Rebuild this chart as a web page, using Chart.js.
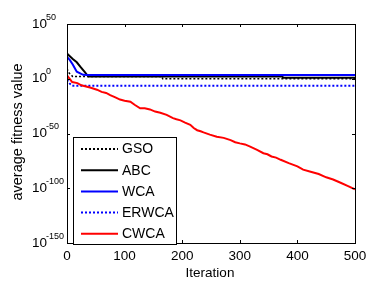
<!DOCTYPE html>
<html>
<head>
<meta charset="utf-8">
<script src="https://cdn.jsdelivr.net/npm/chart.js@4"></script>
<style>
  body { margin: 0; background: #fff; }
  #wrap { width: 379px; height: 291px; position: relative; }
</style>
</head>
<body>
<div id="wrap"><canvas id="myChart"></canvas></div>
<script>
// series values
const gsoIter = [0, 4, 10, 165, 166, 500];
const gsoVal = [1e9, 1e5, 100, 100, 1, 1];

const abcIter = [0, 4, 10, 17, 23, 31, 37, 374, 375, 500];
const abcVal = [1e23, 1e21, 1e18, 1e15, 1e11, 1e6, 100, 100, 10, 10];

const wcaIter = [0, 5, 10, 17, 28, 35, 500];
const wcaVal = [1e20, 1e17, 1e13, 3e6, 4e3, 2.5e3, 2.5e3];

const erwcaIter = [0, 4, 9, 500];
const erwcaVal = [1e-1, 1e-4, 5e-7, 5e-7];

const cwcaIter = [0, 9, 18, 25, 33, 40, 52, 60, 68, 75, 84, 92, 100, 110, 118, 127, 135, 144, 153, 162, 173, 184, 190, 197, 205, 214, 220, 226, 232, 237, 248, 260, 272, 284, 292, 300, 309, 318, 330, 341, 348, 355, 363, 371, 385, 400, 410, 423, 437, 450, 462, 475, 488, 500];
const cwcaVal = [1e3, 1e-3, 1e-4, 1e-6, 1e-7, 1e-8, 1e-10, 1e-12, 1e-13, 1e-15, 1e-17, 1e-19, 1e-20, 1e-21, 1e-24, 1e-27, 1e-27, 1e-28, 1e-30, 1e-31, 1e-33, 1e-36, 1e-37, 1e-38, 1e-40, 1e-42, 1e-45, 1e-47, 1e-48, 1e-49, 1e-51, 1e-53, 1e-54, 1e-56, 1e-58, 1e-59, 1e-60, 1e-62, 1e-65, 1e-68, 1e-69, 1e-71, 1e-72, 1e-74, 1e-77, 1e-80, 1e-83, 1e-85, 1e-87, 1e-90, 1e-92, 1e-95, 1e-98, 1e-101];

const xTicks = [0, 100, 200, 300, 400, 500];
const yExps = [50, 0, -50, -100, -150];

const names = ["GSO", "ABC", "WCA", "ERWCA", "CWCA"];
const FONT = '"Liberation Sans", Arial, sans-serif';

function pts(iter, vals) {
	return iter.map((it, i) => ({ x: it, y: vals[i] }));
}

const styles = [
	{ color: "#000000", dash: [2, 2], width: 1.5 },
	{ color: "#000000", dash: [], width: 2 },
	{ color: "#0000ff", dash: [], width: 2 },
	{ color: "#0000ff", dash: [2, 2], width: 2 },
	{ color: "#ff0000", dash: [], width: 2 }
];

const series = [
	pts(gsoIter, gsoVal),
	pts(abcIter, abcVal),
	pts(wcaIter, wcaVal),
	pts(erwcaIter, erwcaVal),
	pts(cwcaIter, cwcaVal)
];

const datasets = series.map((d, i) => ({
	label: names[i],
	data: d,
	borderColor: styles[i].color,
	borderDash: styles[i].dash,
	borderWidth: styles[i].width,
	pointRadius: 0,
	tension: 0,
	fill: false,
	order: 5 - i
}));

// axes box, ticks, labels and legend, drawn MATLAB style
const decor = {
	id: "decor",
	afterDraw(chart) {
		const ctx = chart.ctx;
		const a = chart.chartArea;
		const xs = chart.scales.x, ys = chart.scales.y;
		ctx.save();
		ctx.strokeStyle = "#000";
		ctx.lineWidth = 1;
		ctx.setLineDash([]);
		ctx.strokeRect(Math.round(a.left) + 0.5, Math.round(a.top) + 0.5, Math.round(a.right - a.left), Math.round(a.bottom - a.top));

		// tick marks inside
		ctx.beginPath();
		xTicks.forEach(t => {
			const px = Math.round(xs.getPixelForValue(t)) + 0.5;
			ctx.moveTo(px, a.bottom); ctx.lineTo(px, a.bottom - 3);
			ctx.moveTo(px, a.top); ctx.lineTo(px, a.top + 3);
		});
		yExps.forEach(e => {
			const py = Math.round(ys.getPixelForValue(Math.pow(10, e))) + 0.5;
			ctx.moveTo(a.left, py); ctx.lineTo(a.left + 3, py);
			ctx.moveTo(a.right, py); ctx.lineTo(a.right - 3, py);
		});
		ctx.stroke();

		ctx.fillStyle = "#000";
		// x tick labels
		ctx.font = "13.5px " + FONT;
		ctx.textAlign = "center";
		ctx.textBaseline = "middle";
		xTicks.forEach(t => {
			ctx.fillText(String(t), xs.getPixelForValue(t), 256);
		});
		// y tick labels 10^e
		yExps.forEach(e => {
			const py = ys.getPixelForValue(Math.pow(10, e));
			ctx.font = "13.5px " + FONT;
			ctx.textAlign = "left";
			ctx.textBaseline = "middle";
			ctx.fillText("10", 32, py);
			ctx.font = "9px " + FONT;
			ctx.textBaseline = "alphabetic";
			ctx.fillText(String(e), 46, py - 4.5);
		});
		// axis titles
		ctx.font = "13.5px " + FONT;
		ctx.textAlign = "center";
		ctx.textBaseline = "middle";
		ctx.fillText("Iteration", 210, 273);
		ctx.save();
		ctx.translate(18, 132);
		ctx.rotate(-Math.PI / 2);
		ctx.font = "14.5px " + FONT;
		ctx.fillText("average fitness value", 0, 0);
		ctx.restore();

		// legend
		const lx = 73.5, ly = 137.5, lw = 103, lh = 107;
		ctx.fillStyle = "#fff";
		ctx.fillRect(lx, ly, lw, lh);
		ctx.strokeStyle = "#000";
		ctx.lineWidth = 1;
		ctx.strokeRect(lx, ly, lw, lh);
		ctx.font = "14px " + FONT;
		ctx.textAlign = "left";
		ctx.textBaseline = "middle";
		names.forEach((n, i) => {
			const y = 149 + i * 21.2;
			ctx.beginPath();
			ctx.strokeStyle = styles[i].color;
			ctx.lineWidth = 2;
			ctx.setLineDash(styles[i].dash);
			ctx.moveTo(81, y); ctx.lineTo(118, y);
			ctx.stroke();
			ctx.setLineDash([]);
			ctx.fillStyle = "#000";
			ctx.fillText(n, 122, y + 0.5);
		});
		ctx.restore();
	}
};

new Chart("myChart", {
	type: "line",
	data: { datasets: datasets },
	options: {
		responsive: true,
		maintainAspectRatio: false,
		animation: false,
		layout: { padding: { left: 67, right: 24, top: 24, bottom: 48 } },
		plugins: { legend: { display: false }, tooltip: { enabled: false } },
		scales: {
			x: { type: "linear", min: 0, max: 500, display: false },
			y: { type: "logarithmic", min: 1e-150, max: 1e50, display: false,
				afterBuildTicks: s => { s.ticks = []; } }
		}
	},
	plugins: [decor]
});
</script>
</body>
</html>
